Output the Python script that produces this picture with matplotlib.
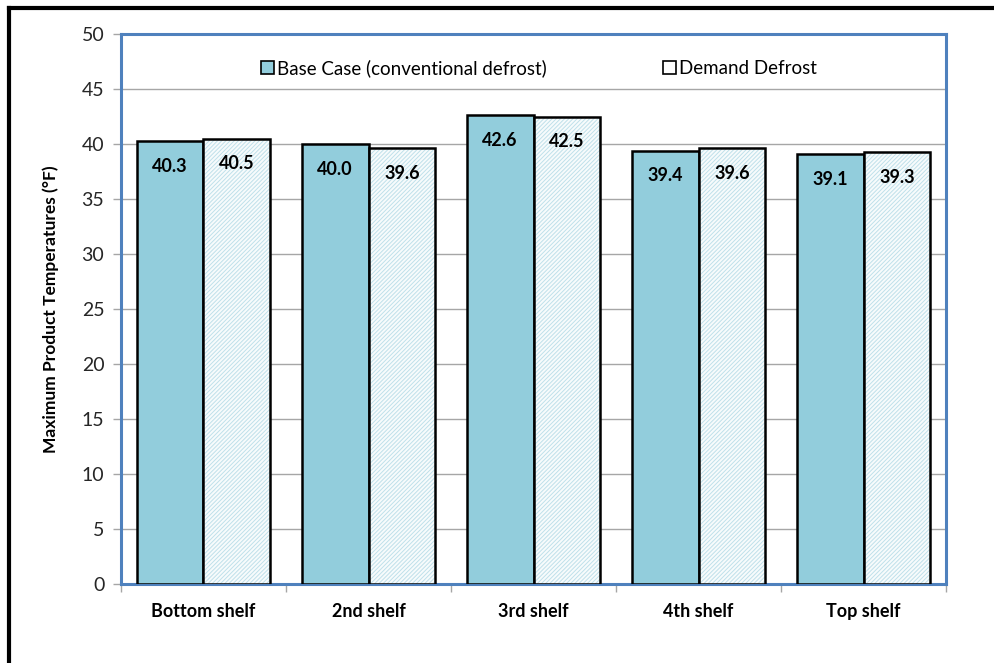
import numpy as np
import matplotlib
matplotlib.use('Agg')
import matplotlib.pyplot as plt
from matplotlib.lines import Line2D
from matplotlib.patches import Patch

plt.rcParams['font.family'] = ['Lato', 'DejaVu Sans']
plt.rcParams['hatch.linewidth'] = 0.7

shelves = ['Bottom shelf', '2nd shelf', '3rd shelf', '4th shelf', 'Top shelf']
base_case = [40.3, 40.0, 42.6, 39.4, 39.1]
demand = [40.5, 39.6, 42.5, 39.6, 39.3]
series_names = ['Base Case (conventional defrost)', 'Demand Defrost']

fig = plt.figure(figsize=(9.95, 6.63), dpi=100)
ax = fig.add_axes([0.1216, 0.1192, 0.8292, 0.8295])

x = np.arange(len(shelves))
w = 0.405

ax.bar(x - w / 2, base_case, w, color='#92CDDC', edgecolor='black', linewidth=1.8, zorder=3)
# hatch layer, then black outline on top
ax.bar(x + w / 2, demand, w, color='#F7FBFC', edgecolor='#BFE0EA', hatch='////////', linewidth=0, zorder=3)
ax.bar(x + w / 2, demand, w, color='none', edgecolor='black', linewidth=1.8, zorder=4)

for xi, v in zip(x, base_case):
    ax.text(xi - w / 2, v - 2.3, f'{v:.1f}', ha='center', va='center', fontsize=13, fontweight='bold', zorder=5)
for xi, v in zip(x, demand):
    ax.text(xi + w / 2, v - 2.3, f'{v:.1f}', ha='center', va='center', fontsize=13, fontweight='bold', zorder=5)

ax.set_xlim(-0.5, len(shelves) - 0.5)
ax.set_ylim(0, 50)
ax.set_yticks(range(0, 51, 5))
ax.yaxis.grid(True, color='#A6A6A6', linewidth=1.0, zorder=0)
ax.set_axisbelow(True)

ax.set_xticks(x)
ax.set_xticklabels(shelves, fontsize=13, fontweight='bold')
ax.set_xticks(np.arange(-0.5, len(shelves)), minor=True)
ax.tick_params(axis='x', which='major', length=0, pad=14)
ax.tick_params(axis='x', which='minor', length=6, color='#A6A6A6', width=1)
ax.tick_params(axis='y', length=6, color='#A6A6A6', width=1, labelsize=14, labelcolor='#262626', pad=6)

for s in ax.spines.values():
    s.set_color('#4F81BD')
    s.set_linewidth(2.2)

ax.set_ylabel('Maximum Product Temperatures (°F)', fontsize=12.5, fontweight='bold', labelpad=16)

handles = [Patch(facecolor='#92CDDC', edgecolor='black', linewidth=1.2),
           Patch(facecolor='white', edgecolor='black', linewidth=1.2)]
ax.legend(handles, series_names, loc='upper center', bbox_to_anchor=(0.507, 0.985), ncol=2,
          frameon=False, fontsize=13.5, handlelength=0.65, handleheight=0.65, handletextpad=0.2,
          columnspacing=6.2)

# outer chart border (top and left)
fig.add_artist(Line2D([0.009, 1.0], [0.988, 0.988], color='black', linewidth=3, transform=fig.transFigure))
fig.add_artist(Line2D([0.009, 0.009], [0.0, 0.988], color='black', linewidth=3, transform=fig.transFigure))

fig.savefig('out.png', dpi=100)
